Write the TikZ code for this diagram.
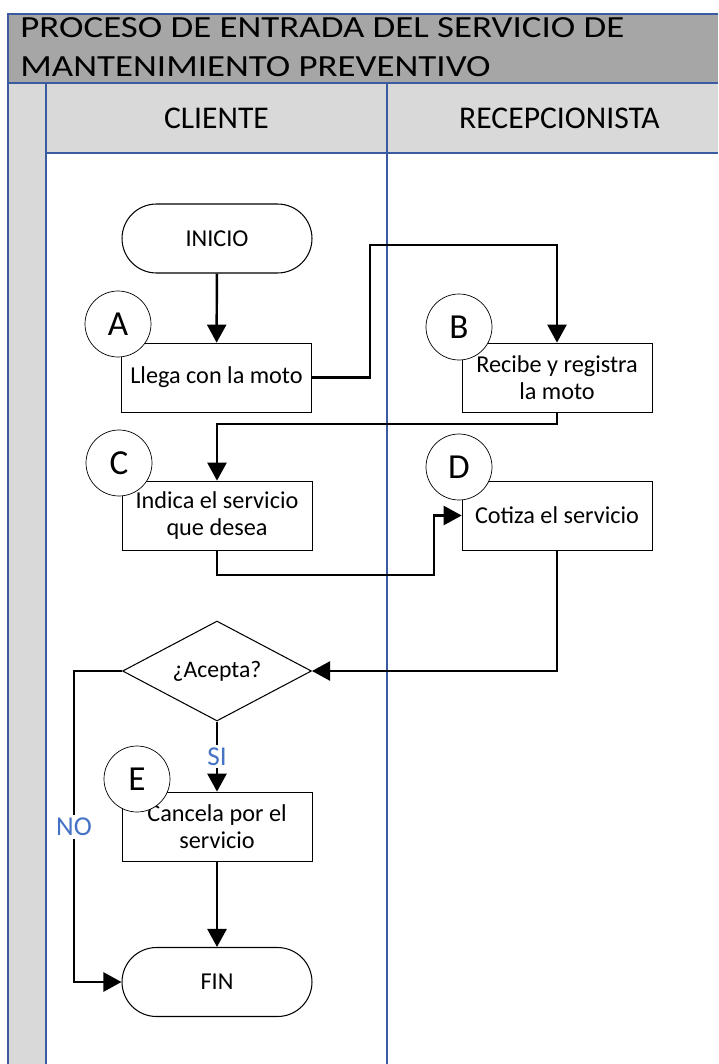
\documentclass[tikz,border=0pt]{standalone}
\usepackage{fontspec}
\setmainfont{Carlito}
\usetikzlibrary{arrows.meta,shapes.geometric}

\definecolor{carril}{HTML}{3A5BA0}
\definecolor{titulo}{HTML}{A6A6A6}
\definecolor{cabecera}{HTML}{D9D9D9}
\definecolor{etiq}{HTML}{4472C4}

\begin{document}
\begin{tikzpicture}[x=0.02cm,y=-0.02cm,
    caja/.style={draw,thin,fill=white,minimum width=3.8cm,minimum height=1.38cm,align=center,font=\fontsize{13.8}{15.3}\selectfont,inner sep=1pt},
    terminal/.style={draw,semithick,fill=white,rounded corners=0.69cm,minimum width=3.8cm,minimum height=1.38cm,font=\fontsize{13.8}{16}\selectfont},
    decision/.style={draw,semithick,fill=white,diamond,aspect=1.89,minimum width=3.78cm,minimum height=2cm,inner sep=0pt,font=\fontsize{13.5}{16}\selectfont},
    letra/.style={draw,thin,fill=white,circle,minimum size=1.32cm,inner sep=0pt,font=\fontsize{20}{24}\selectfont},
    flecha/.style={line width=1.4pt,-{Triangle[length=0.36cm,width=0.38cm]}},
    etiqueta/.style={fill=white,text=etiq,inner sep=1.5pt,font=\fontsize{15.5}{18}\selectfont},
    titular/.style={anchor=base west,inner sep=0pt,xscale=1.2,font=\fontsize{17.5}{20}\selectfont},
    borde/.style={carril,line width=0.9pt}]
  \useasboundingbox (0,0) rectangle (718,1064);
  % fondos de la cabecera y de la franja izquierda
  \fill[titulo] (8,14) rectangle (718,83);
  \fill[cabecera] (8,83) rectangle (718,153);
  \fill[cabecera] (8,153) rectangle (46,1064);
  % lineas de los carriles
  \draw[borde] (718,14) -- (8,14) -- (8,1064);
  \draw[borde] (8,83) -- (718,83);
  \draw[borde] (46,83) -- (46,1064);
  \draw[borde] (46,153) -- (718,153);
  \draw[borde] (387,83) -- (387,1064);
  % textos de cabecera
  \node[titular] (proceso) at (20,38) {PROCESO DE ENTRADA DEL SERVICIO DE};
  \node[titular] (mant) at (20,77) {MANTENIMIENTO PREVENTIVO};
  \node[font=\fontsize{18}{20}\selectfont] (cliente) at (216.5,118) {CLIENTE};
  \node[font=\fontsize{18}{20}\selectfont] (recep) at (559.5,118) {RECEPCIONISTA};
  % actividades
  \node[terminal] (inicio) at (217,238.5) {INICIO};
  \node[caja] (llega) at (216.5,377.5) {Llega con la moto};
  \node[caja] (recibe) at (557,377.5) {Recibe y registra\\la moto};
  \node[caja] (indica) at (217,515.5) {Indica el servicio\\que desea};
  \node[caja] (cotiza) at (557,515.5) {Cotiza el servicio};
  \node[decision] (acepta) at (217,671) {¿Acepta?};
  \node[caja] (cancela) at (217,826.5) {Cancela por el\\servicio};
  \node[terminal] (fin) at (217,982) {FIN};
  % letras
  \node[letra] (la) at (118,324) {A};
  \node[letra] (lb) at (459,327) {B};
  \node[letra] (lc) at (119,463) {C};
  \node[letra] (ld) at (459,467) {D};
  \node[letra] (le) at (137,779) {E};
  % conectores
  \draw[flecha] (inicio) -- (llega);
  \draw[flecha] (llega.east) -| (370,245) -| (recibe.north);
  \draw[flecha] (recibe.south) |- (217,424) -- (indica.north);
  \draw[flecha] (indica.south) |- (434,575) |- (cotiza.west);
  \draw[flecha] (cotiza.south) |- (acepta.east);
  \draw[flecha] (acepta.south) -- node[etiqueta] (si) {SI} (cancela.north);
  \draw[flecha] (cancela) -- (fin);
  \draw[flecha] (acepta.west) -| (74,827) node[etiqueta] (no) {NO} |- (fin.west);
\end{tikzpicture}
\end{document}
